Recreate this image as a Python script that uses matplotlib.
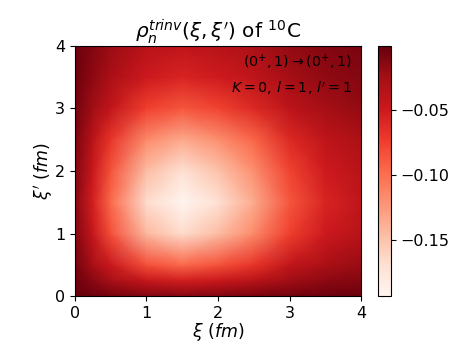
import matplotlib
matplotlib.use("Agg")
import matplotlib.pyplot as plt
import numpy as np

xi = [0.0, 0.25, 0.5, 1.0, 1.5, 2.0, 2.5, 3.0, 3.5, 4.0]
xip = [0.0, 0.25, 0.5, 1.0, 1.5, 2.0, 2.5, 3.0, 3.5, 4.0]

# rho values, rows = xi', cols = xi
rho = [
    [-0.001, -0.004, -0.007, -0.012, -0.014, -0.012, -0.010, -0.006, -0.004, -0.003],
    [-0.004, -0.015, -0.027, -0.046, -0.054, -0.048, -0.038, -0.024, -0.016, -0.012],
    [-0.007, -0.027, -0.048, -0.083, -0.097, -0.085, -0.068, -0.043, -0.029, -0.021],
    [-0.012, -0.046, -0.083, -0.143, -0.166, -0.146, -0.116, -0.075, -0.050, -0.037],
    [-0.014, -0.054, -0.097, -0.166, -0.193, -0.170, -0.135, -0.087, -0.058, -0.042],
    [-0.012, -0.048, -0.085, -0.146, -0.170, -0.150, -0.119, -0.077, -0.051, -0.037],
    [-0.010, -0.038, -0.068, -0.116, -0.135, -0.119, -0.095, -0.061, -0.041, -0.030],
    [-0.006, -0.024, -0.043, -0.075, -0.087, -0.077, -0.061, -0.039, -0.026, -0.019],
    [-0.004, -0.016, -0.029, -0.050, -0.058, -0.051, -0.041, -0.026, -0.017, -0.013],
    [-0.003, -0.012, -0.021, -0.037, -0.042, -0.037, -0.030, -0.019, -0.013, -0.009],
]
cbar_ticks = [-0.05, -0.10, -0.15]

fig = plt.figure(figsize=(4.77, 3.58), dpi=100)
ax = fig.add_axes([0.157, 0.173, 0.600, 0.699])
cax = fig.add_axes([0.792, 0.173, 0.027, 0.699])

X, Y = np.meshgrid(xi, xip)
mesh = ax.pcolormesh(X, Y, np.array(rho), cmap="Reds", shading="gouraud")
ax.set_xlim(0, 4)
ax.set_ylim(0, 4)
ax.set_xticks([0, 1, 2, 3, 4])
ax.set_yticks([0, 1, 2, 3, 4])
ax.tick_params(labelsize=11.5)

ax.set_xlabel(r"$\xi\ (fm)$", fontsize=12.5, labelpad=0)
ax.set_ylabel(r"$\xi'\ (fm)$", fontsize=12.5, labelpad=0)
ax.set_title(r"$\rho_n^{trinv}(\xi,\xi')$ of $^{10}$C", fontsize=14.4, pad=4)

ax.text(0.97, 0.932, r"$(0^{+},1)\rightarrow(0^{+},1)$", transform=ax.transAxes,
        ha="right", va="center", fontsize=10.3)
ax.text(0.97, 0.832, r"$K=0,\, l=1,\, l'=1$", transform=ax.transAxes,
        ha="right", va="center", fontsize=10.3)

cb = fig.colorbar(mesh, cax=cax)
cb.set_ticks(cbar_ticks)
cb.ax.tick_params(labelsize=11.5)

fig.savefig("out.png")
